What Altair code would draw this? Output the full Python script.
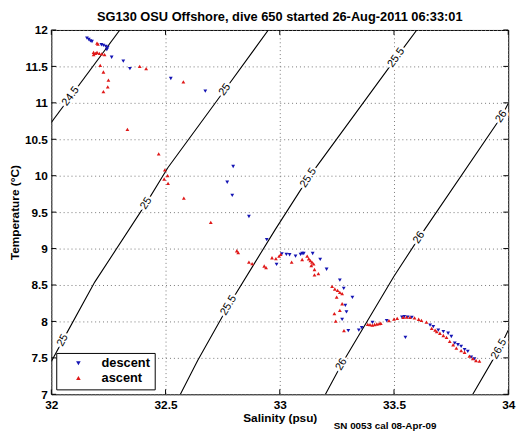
import altair as alt
import pandas as pd

# ---------------- data ----------------
desc_S = [32.156, 32.164, 32.171, 32.178, 32.219, 32.228, 32.238, 32.247, 32.243, 32.264,
          32.315, 32.344, 32.523, 32.674, 32.796, 32.770, 32.792, 32.865, 32.943, 32.986,
          33.009, 33.029, 33.043, 33.069, 33.091, 33.098, 33.105, 33.144, 33.177, 33.205,
          33.263, 33.280, 33.318, 33.287, 33.292, 33.273, 33.300, 33.346, 33.359, 33.406,
          33.468, 33.535, 33.545, 33.560, 33.578, 33.550, 33.658, 33.672, 33.694, 33.716,
          33.737, 33.751, 33.766, 33.780, 33.794, 33.809, 33.823, 33.838, 33.852]
desc_T = [11.888, 11.869, 11.851, 11.842, 11.797, 11.788, 11.774, 11.761, 11.730, 11.626,
          11.572, 11.469, 11.334, 11.162, 10.126, 9.910, 9.730, 9.440, 9.122, 8.784,
          8.928, 8.919, 8.915, 8.896, 8.919, 8.932, 8.932, 8.932, 8.851, 8.716,
          8.568, 8.455, 8.329, 8.220, 8.131, 8.027, 7.874, 7.882, 7.915, 7.986,
          8.010, 8.060, 8.065, 8.060, 8.055, 7.780, 7.950, 7.928, 7.882, 7.860,
          7.838, 7.793, 7.703, 7.680, 7.658, 7.612, 7.590, 7.510, 7.486]

asc_S = [32.200, 32.204, 32.185, 32.193, 32.200, 32.210, 32.221, 32.233, 32.185, 32.214,
         32.228, 32.250, 32.247, 32.228, 32.387, 32.415, 32.578, 32.333,
         32.470, 32.497, 32.509, 32.494, 32.511, 32.580, 32.698,
         32.812, 32.818, 32.865, 32.879, 32.932, 32.940, 32.966, 32.983, 32.997, 33.004, 33.052,
         33.098, 33.120, 33.127, 33.134, 33.141, 33.148, 33.138, 33.152, 33.169, 33.152,
         33.229, 33.241, 33.253, 33.263, 33.273, 33.249, 33.273, 33.263, 33.239, 33.245, 33.281,
         33.385, 33.395, 33.405, 33.415, 33.425, 33.435, 33.442, 33.478, 33.500, 33.514,
         33.540, 33.555, 33.570, 33.590, 33.608, 33.620, 33.642, 33.665, 33.680, 33.687,
         33.701, 33.716, 33.730, 33.744, 33.759, 33.773, 33.794, 33.809, 33.830, 33.845,
         33.859, 33.874]
asc_T = [11.820, 11.807, 11.693, 11.680, 11.693, 11.680, 11.672, 11.662, 11.662, 11.514,
         11.423, 11.311, 11.220, 11.153, 11.500, 11.469, 11.288, 10.635,
         10.300, 10.080, 10.000, 9.955, 9.896, 9.693, 9.360,
         8.970, 8.945, 8.815, 8.793, 8.761, 8.739, 8.874, 8.861, 8.896, 8.919, 8.815,
         8.850, 8.895, 8.860, 8.835, 8.815, 8.790, 8.768, 8.713, 8.655, 8.640,
         8.480, 8.445, 8.426, 8.400, 8.382, 8.334, 8.243, 8.152, 8.108, 8.004, 7.873,
         7.960, 7.955, 7.950, 7.958, 7.965, 7.970, 7.975, 8.010, 8.031, 8.041,
         8.055, 8.058, 8.055, 8.050, 8.030, 8.015, 7.990, 7.905, 7.882, 7.860,
         7.838, 7.807, 7.780, 7.726, 7.680, 7.635, 7.599, 7.577, 7.523, 7.490,
         7.464, 7.455]

# density (sigma-theta) contours
c245_S = [32.000, 32.300]
c245_T = [10.73, 12.00]
c25_S = [32.000, 32.050, 32.190, 32.415, 32.510, 32.760, 32.950]
c25_T = [7.45, 7.74, 8.54, 9.62, 10.11, 11.18, 12.00]
c255_S = [32.565, 32.640, 32.776, 32.980, 33.125, 33.510, 33.600]
c255_T = [7.00, 7.46, 8.22, 9.26, 9.97, 11.62, 12.00]
c26_S = [33.200, 33.270, 33.500, 33.610, 33.970, 34.000]
c26_T = [7.00, 7.41, 8.62, 9.15, 10.81, 10.99]
c265_S = [33.845, 33.960, 34.000]
c265_T = [7.00, 7.62, 7.88]

lab_txt = ["24.5", "25", "25", "25", "25.5", "25.5", "25.5", "26", "26", "26", "26.5"]
lab_S = [32.085, 32.760, 32.415, 32.050, 33.510, 33.125, 32.776, 33.970, 33.610, 33.270, 33.960]
lab_T = [11.09, 11.18, 9.62, 7.74, 11.62, 9.97, 8.22, 10.81, 9.15, 7.41, 7.62]
lab_angle = [306.5, 306, 302, 298.5, 306, 302.6, 300.6, 304.3, 303, 300, 299]

x_ticks = [32, 32.5, 33, 33.5, 34]
y_ticks = [7, 7.5, 8, 8.5, 9, 9.5, 10, 10.5, 11, 11.5, 12]

title_text = "SG130 OSU Offshore, dive 650 started 26-Aug-2011 06:33:01"
foot_text = "SN 0053 cal 08-Apr-09"

# ---------------- tables ----------------
pts = pd.concat([
    pd.DataFrame({"S": desc_S, "T": desc_T, "cast": "descent", "o": 0}),
    pd.DataFrame({"S": asc_S, "T": asc_T, "cast": "ascent", "o": 1}),
], ignore_index=True)

rows = []
for name, ss, tt in [("24.5", c245_S, c245_T), ("25", c25_S, c25_T), ("25.5", c255_S, c255_T),
                     ("26", c26_S, c26_T), ("26.5", c265_S, c265_T)]:
    for i, (s, t) in enumerate(zip(ss, tt)):
        rows.append({"lvl": name, "i": i, "S": s, "T": t})
cont = pd.DataFrame(rows)
labs = pd.DataFrame({"S": lab_S, "T": lab_T, "txt": lab_txt, "ang": lab_angle})
xt = pd.DataFrame({"S": x_ticks})
yt = pd.DataFrame({"T": y_ticks})

W, H = 464, 370
FONT = "Liberation Sans"

xs = alt.Scale(domain=[32, 34], nice=False, zero=False)
ys = alt.Scale(domain=[7, 12], nice=False, zero=False)
xax = alt.Axis(values=x_ticks, format="~g", title="Salinity (psu)", labelPadding=5,
               titlePadding=3, grid=True, labelFlush=False)
yax = alt.Axis(values=y_ticks, format="~g", title="Temperature (\u00b0C)", labelPadding=4,
               titlePadding=3, grid=True, labelFlush=False)
X = alt.X("S:Q", scale=xs, axis=xax)
Y = alt.Y("T:Q", scale=ys, axis=yax)

contours = alt.Chart(cont).mark_line(color="black", strokeWidth=1.1, clip=True).encode(
    x=X, y=Y, detail="lvl:N", order="i:Q")

halo = alt.Chart(labs).mark_text(font=FONT, fontSize=11, color="white", stroke="white",
                                 strokeWidth=5).encode(
    x=X, y=Y, text="txt:N", angle=alt.Angle("ang:Q", scale=None))
ltext = alt.Chart(labs).mark_text(font=FONT, fontSize=11, color="black").encode(
    x=X, y=Y, text="txt:N", angle=alt.Angle("ang:Q", scale=None))

points = alt.Chart(pts).mark_point(filled=True, size=15, opacity=1).encode(
    x=X, y=Y,
    color=alt.Color("cast:N", scale=alt.Scale(domain=["descent", "ascent"],
                                              range=["#1414b4", "#e01818"]),
                    legend=alt.Legend(title=None)),
    shape=alt.Shape("cast:N", scale=alt.Scale(domain=["descent", "ascent"],
                                              range=["triangle-down", "triangle-up"]),
                    legend=alt.Legend(title=None)),
    order="o:Q")

tb = alt.Chart(xt).mark_rule(color="black").encode(x=X, y=alt.value(H), y2=alt.value(H - 5))
tt_ = alt.Chart(xt).mark_rule(color="black").encode(x=X, y=alt.value(0), y2=alt.value(5))
tl = alt.Chart(yt).mark_rule(color="black").encode(y=Y, x=alt.value(0), x2=alt.value(5))
tr = alt.Chart(yt).mark_rule(color="black").encode(y=Y, x=alt.value(W), x2=alt.value(W - 5))

foot = alt.Chart(pd.DataFrame({"t": [foot_text]})).mark_text(
    font=FONT, fontSize=10, fontWeight="bold", color="black", align="center").encode(
    text="t:N", x=alt.value(339), y=alt.value(402))

chart = alt.layer(contours, halo, ltext, tb, tt_, tl, tr, points, foot).properties(
    width=W, height=H,
    title=alt.TitleParams(title_text, font=FONT, fontSize=13, fontWeight="bold",
                          anchor="middle", offset=0, color="black"),
    autosize=alt.AutoSizeParams(type="none"),
    padding={"left": 44, "top": 19, "right": 14, "bottom": 37},
).configure_view(stroke="black", strokeWidth=1).configure_axis(
    ticks=False, domain=False, gridDash=[1, 3], gridColor="#777777", gridOpacity=1,
    labelFont=FONT, labelFontSize=12, labelFontWeight="bold", labelColor="black",
    titleFont=FONT, titleFontSize=12, titleFontWeight="bold", titleColor="black",
).configure_legend(
    orient="bottom-left", offset=5, strokeColor="black", fillColor="white",
    padding=4, labelFont=FONT, labelFontSize=13, labelFontWeight="bold",
    labelColor="black", symbolSize=22, symbolOffset=12, labelOffset=17, rowPadding=1,
    symbolStrokeWidth=0,
)

chart.save("out.html", embed_options={"renderer": "svg", "actions": False})
